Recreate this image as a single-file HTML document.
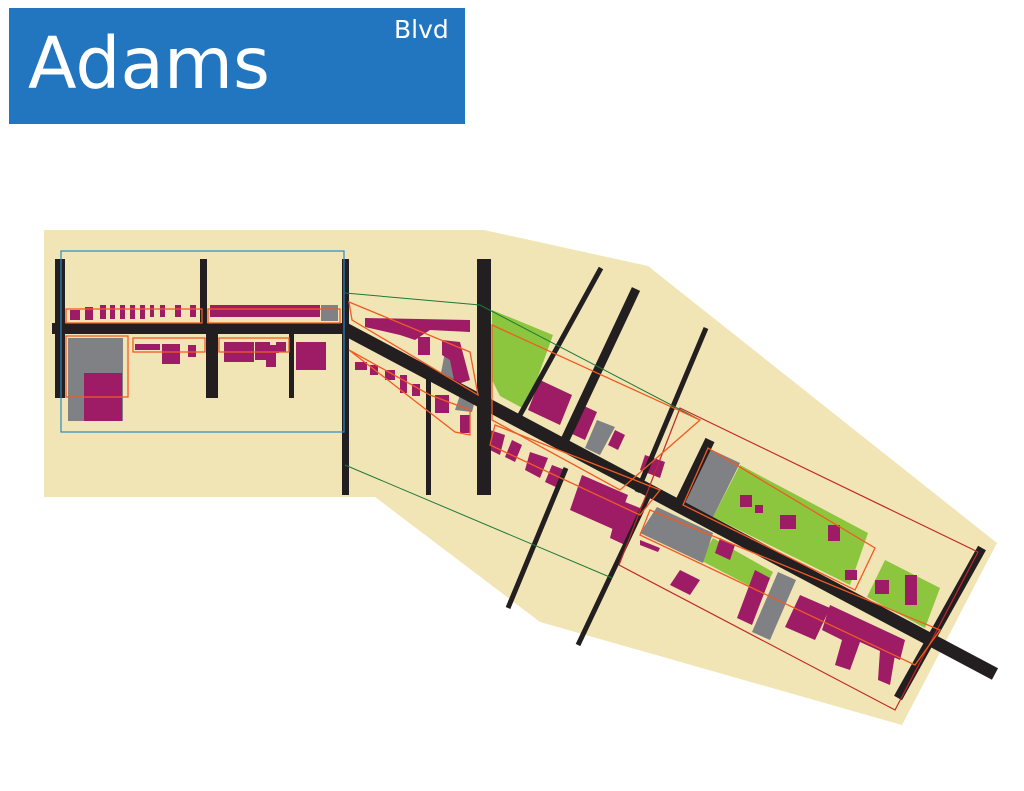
<!DOCTYPE html>
<html><head><meta charset="utf-8"><style>
html,body{margin:0;padding:0;background:#fff;width:1024px;height:791px;overflow:hidden}
</style></head><body>
<svg width="1024" height="791" viewBox="0 0 1024 791" xmlns="http://www.w3.org/2000/svg">
<rect x="9" y="8" width="456" height="116" fill="#2176bf"/>
<text x="28" y="88" font-family="DejaVu Sans, Liberation Sans, sans-serif" font-size="71" fill="#fff">Adams</text>
<text x="394" y="38" font-family="DejaVu Sans, Liberation Sans, sans-serif" font-size="25" fill="#fff">Blvd</text>

<polygon points="44,230 484,230 648,266 997,543 902,725 540,622 375,497 44,497" fill="#f2e5b5"/>

<polygon points="492,310 553,335 526,410 500,396 492,380" fill="#8cc63f"/>
<polygon points="740,465 868,533 850,585 713,517" fill="#8cc63f"/>
<polygon points="713,538 773,572 763,593 700,560" fill="#8cc63f"/>
<polygon points="885,560 940,588 925,628 867,597" fill="#8cc63f"/>

<rect x="68" y="338" width="55" height="83" fill="#808184"/>
<rect x="321" y="305" width="17" height="16" fill="#808184"/>
<polygon points="708,448 740,463 713,517 683,502" fill="#808184"/>
<polygon points="657,507 713,533 703,563 640,533" fill="#808184"/>
<polygon points="597,420 615,427 600,455 585,448" fill="#808184"/>
<polygon points="778,572 796,580 770,640 752,632" fill="#808184"/>
<polygon points="445,352 460,358 455,385 440,378" fill="#808184"/>
<polygon points="460,395 475,400 472,412 455,410" fill="#808184"/>

<g fill="#9e1b66">
<rect x="84" y="373" width="38" height="48"/>
<rect x="70" y="310" width="10" height="10"/><rect x="85" y="307" width="8" height="13"/>
<rect x="100" y="305" width="6" height="14"/><rect x="110" y="305" width="5" height="14"/><rect x="120" y="305" width="5" height="14"/><rect x="130" y="305" width="5" height="14"/><rect x="140" y="305" width="5" height="14"/><rect x="150" y="305" width="4" height="12"/><rect x="160" y="305" width="5" height="12"/><rect x="175" y="305" width="6" height="12"/><rect x="190" y="305" width="6" height="12"/>
<rect x="210" y="305" width="110" height="12"/>
<rect x="135" y="344" width="25" height="6"/><rect x="162" y="344" width="18" height="20"/><rect x="188" y="345" width="8" height="12"/>
<rect x="224" y="342" width="30" height="20"/><rect x="255" y="342" width="15" height="18"/><rect x="264" y="345" width="15" height="8"/><rect x="266" y="345" width="10" height="22"/><rect x="276" y="342" width="10" height="10"/>
<rect x="296" y="342" width="30" height="28"/>
<polygon points="365,318 470,320 470,332 430,330 415,340 400,335 365,327"/>
<rect x="418" y="337" width="12" height="18"/>
<polygon points="442,340 460,342 470,380 455,385 450,360 442,355"/>
<rect x="355" y="362" width="12" height="8"/><rect x="370" y="365" width="8" height="10"/><rect x="385" y="370" width="10" height="10"/><rect x="400" y="375" width="7" height="18"/><rect x="412" y="384" width="8" height="12"/>
<rect x="435" y="395" width="14" height="18"/><rect x="460" y="415" width="10" height="18"/>
<polygon points="540,380 572,395 560,425 528,410"/>
<polygon points="582,405 597,412 585,440 570,433"/>
<polygon points="615,430 625,435 618,450 608,445"/>
<polygon points="645,455 665,462 660,478 640,470"/>
<polygon points="490,430 505,435 500,455 490,450"/><polygon points="512,440 522,445 515,462 505,457"/>
<polygon points="530,452 548,458 540,478 525,470"/><polygon points="552,465 565,470 558,488 545,482"/>
<polygon points="582,475 628,495 615,530 570,510"/>
<polygon points="620,500 640,508 625,545 610,538"/>
<polygon points="640,540 660,548 658,552 640,545"/>
<polygon points="720,538 735,545 730,560 715,553"/>
<polygon points="680,570 700,580 690,595 670,585"/>
<polygon points="755,570 770,578 752,625 737,618"/>
<polygon points="800,595 830,608 815,640 785,627"/>
<polygon points="830,605 905,640 900,660 860,642 850,670 835,665 842,640 822,630"/>
<polygon points="880,650 895,655 890,685 878,680"/>
<rect x="780" y="515" width="16" height="14"/><rect x="740" y="495" width="12" height="12"/><rect x="755" y="505" width="8" height="8"/><rect x="828" y="525" width="12" height="16"/>
<rect x="845" y="570" width="12" height="10"/><rect x="875" y="580" width="14" height="14"/><rect x="905" y="575" width="12" height="30"/>
</g>

<g fill="#231f20" stroke="none">
<rect x="52" y="323" width="295" height="11"/>
<rect x="55" y="259" width="10" height="139"/>
<rect x="200" y="259" width="7" height="66"/>
<rect x="206" y="332" width="12" height="66"/>
<rect x="289" y="332" width="5" height="66"/>
<rect x="342" y="259" width="7" height="236"/>
<rect x="426" y="375" width="5" height="120"/>
<rect x="477" y="259" width="14" height="236"/>
</g>
<g stroke="#231f20" fill="none">
<line x1="345" y1="329" x2="995" y2="674" stroke-width="13"/>
<line x1="601" y1="268" x2="520" y2="415" stroke-width="5"/>
<line x1="636" y1="289" x2="565" y2="440" stroke-width="9"/>
<line x1="706" y1="328" x2="637" y2="492" stroke-width="5"/>
<line x1="710" y1="440" x2="680" y2="502" stroke-width="10"/>
<line x1="566" y1="468" x2="508" y2="608" stroke-width="5"/>
<line x1="648" y1="497" x2="578" y2="645" stroke-width="5"/>
<line x1="982" y1="548" x2="898" y2="698" stroke-width="9"/>
</g>

<rect x="61" y="251" width="283" height="181" fill="none" stroke="#2a8ac4" stroke-width="1.2"/>
<polyline points="345,293 480,305 700,420" fill="none" stroke="#1a7a3a" stroke-width="1"/>
<polyline points="345,465 612,578" fill="none" stroke="#1a7a3a" stroke-width="1"/>
<polygon points="680,408 978,552 895,710 619,565" fill="none" stroke="#c1272d" stroke-width="1.2"/>
<g fill="none" stroke="#f15a24" stroke-width="1.3">
<rect x="66" y="309" width="136" height="14"/><rect x="208" y="309" width="132" height="14"/>
<rect x="66" y="336" width="62" height="61"/>
<rect x="133" y="338" width="72" height="14"/><rect x="219" y="338" width="70" height="14"/>
<polygon points="349,302 470,352 478,395 352,320"/>
<polygon points="349,350 430,395 470,410 470,435 455,432"/>
<polygon points="492,325 700,420 620,490 492,420"/>
<polygon points="495,425 660,490 640,515 490,445"/>
<polygon points="708,448 875,548 855,590 683,505"/>
<polygon points="650,510 940,630 915,665 640,535"/>
</g>
</svg>
</body></html>
